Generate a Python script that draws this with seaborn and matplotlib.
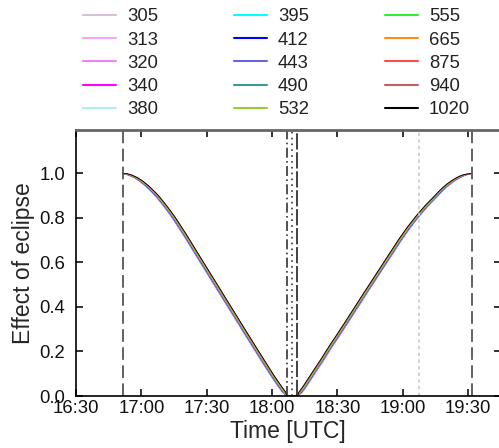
import numpy as np
import pandas as pd
import matplotlib
matplotlib.use("Agg")
import matplotlib.pyplot as plt
import matplotlib.dates as mdates
import seaborn as sns

# wavelengths [nm] and line colours, as in the legend
wavelengths = ["305", "313", "320", "340", "380", "395", "412", "443",
               "490", "532", "555", "665", "875", "940", "1020"]
colours = ["#d8bfd8", "#f4a6ee", "#ee82ee", "#ff00ff", "#afeeee", "#00ffff",
           "#0000ff", "#6666dd", "#3a9a96", "#9acd32", "#33ee33", "#ff8c1a",
           "#ff4a4a", "#c46060", "#000000"]
# small horizontal offset of each curve [min]
shift_min = [-0.9, -0.8, -0.75, -0.7, -0.5, -0.45, -0.4, -0.3,
             -0.15, 0.0, 0.05, 0.3, 0.55, 0.65, 0.75]

# minutes after 16:30 UTC and effect of eclipse, ingress side
desc_min = [21.4, 23, 25, 27.5, 30, 32.5, 35, 37.5, 40, 42.5, 45, 50, 55, 60,
            65, 70, 75, 80, 85, 90, 92, 94, 95.5, 96.8]
desc_val = [1.0, 0.998, 0.992, 0.981, 0.965, 0.945, 0.922, 0.896, 0.866,
            0.834, 0.80, 0.725, 0.645, 0.566, 0.487, 0.408, 0.329, 0.25,
            0.172, 0.095, 0.066, 0.038, 0.018, 0.0]
# egress side
asc_min = [101.7, 103, 104.5, 106, 108, 110, 113, 117, 121, 125, 129, 133,
           137, 141, 145, 149, 153, 157, 161, 165, 167, 169, 171, 173, 175,
           177, 179, 181.7]
asc_val = [0.0, 0.016, 0.036, 0.058, 0.088, 0.118, 0.162, 0.224, 0.283,
           0.343, 0.404, 0.465, 0.525, 0.585, 0.645, 0.705, 0.76, 0.81,
           0.855, 0.895, 0.916, 0.935, 0.952, 0.966, 0.978, 0.988, 0.995, 1.0]

# contact times / markers [min after 16:30]
t_first = 21.4
t_c2 = 97.1
t_max = 99.3
t_c3 = 101.6
t_sunset = 157.5
t_last = 181.7

t0 = pd.Timestamp("2017-08-21 16:30")
def tt(m):
    return t0 + pd.to_timedelta(m, unit="min")

rows = []
for wl, sh in zip(wavelengths, shift_min):
    for m, v in zip(desc_min, desc_val):
        rows.append((wl, tt(m + sh if 0 < v < 1 else m), v))
    for m, v in zip(asc_min, asc_val):
        rows.append((wl, tt(m - sh if 0 < v < 1 else m), v))
df = pd.DataFrame(rows, columns=["wl", "time", "effect"])

sns.set_style("ticks")
plt.rcParams["font.family"] = ["Liberation Sans", "DejaVu Sans"]

fig = plt.figure(figsize=(4.99, 4.48), dpi=100)
ax = fig.add_axes([76 / 499, 52 / 448, 424.7 / 499, 266 / 448])

sns.lineplot(data=df, x="time", y="effect", hue="wl", hue_order=wavelengths,
             palette=colours, linewidth=0.6, sort=False, estimator=None,
             ax=ax)

# contact lines
ax.axvline(tt(t_first), color="#555555", lw=1.3, ls=(0, (7, 3)))
ax.axvline(tt(t_last), color="#555555", lw=1.3, ls=(0, (7, 3)))
ax.axvline(tt(t_c2), color="#333333", lw=1.2, ls=(0, (6, 2, 1, 2)))
ax.axvline(tt(t_max), color="#333333", lw=1.2, ls=(0, (1, 2.5)))
ax.axvline(tt(t_c3), color="#333333", lw=1.3, ls=(0, (9, 1.5)))
ax.axvline(tt(t_sunset), color="#c8c8c8", lw=1.2, ls=(0, (2, 2)))

ax.set_xlim(tt(0), tt(195))
ax.set_ylim(0, 1.195)
ax.set_yticks([0.0, 0.2, 0.4, 0.6, 0.8, 1.0])
ax.xaxis.set_major_locator(mdates.MinuteLocator(byminute=[0, 30]))
ax.xaxis.set_major_formatter(mdates.DateFormatter("%H:%M"))

ax.tick_params(direction="in", length=5, width=1.2, top=True, right=True,
               labelsize=13.3, colors="#111111")
ax.tick_params(axis="y", pad=8)
ax.tick_params(axis="x", pad=3)
for s in ["left", "bottom"]:
    ax.spines[s].set_color("black")
    ax.spines[s].set_linewidth(1.2)
ax.spines["top"].set_color("#666666")
ax.spines["top"].set_linewidth(2)
ax.spines["right"].set_color("#666666")

ax.set_xlabel("Time [UTC]", fontsize=16.5, labelpad=2)
ax.set_ylabel("Effect of eclipse", fontsize=16.5, labelpad=3)

sns.move_legend(ax, "upper left", bbox_to_anchor=(0.016, 1.457), ncol=3,
                frameon=False, title=None, fontsize=13.3, handlelength=1.79,
                handletextpad=0.6, columnspacing=4.1, labelspacing=0.335,
                borderpad=0, borderaxespad=0)
for line in ax.get_legend().get_lines():
    line.set_linewidth(1.5)
for txt in ax.get_legend().get_texts():
    txt.set_color("#222222")

fig.savefig("out.png", dpi=100)
